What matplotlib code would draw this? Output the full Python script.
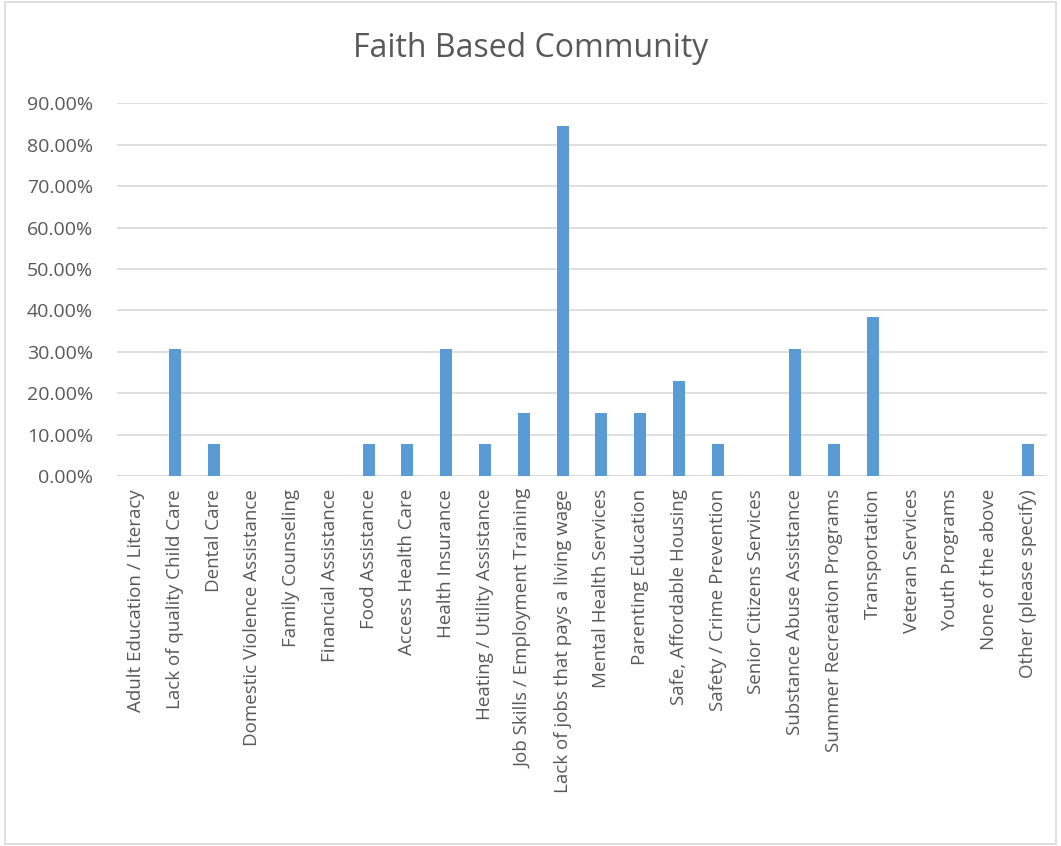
import matplotlib
matplotlib.use("Agg")
import matplotlib.pyplot as plt
from matplotlib.ticker import PercentFormatter
from matplotlib.patches import Rectangle

categories = [
    "Adult Education / Literacy", "Lack of quality Child Care", "Dental Care",
    "Domestic Violence Assistance", "Family Counseling", "Financial Assistance",
    "Food Assistance", "Access Health Care", "Health Insurance",
    "Heating / Utility Assistance", "Job Skills / Employment Training",
    "Lack of jobs that pays a living wage", "Mental Health Services",
    "Parenting Education", "Safe, Affordable Housing", "Safety / Crime Prevention",
    "Senior Citizens Services", "Substance Abuse Assistance",
    "Summer Recreation Programs", "Transportation", "Veteran Services",
    "Youth Programs", "None of the above", "Other (please specify)",
]
values = [0.0, 0.3077, 0.0769, 0.0, 0.0, 0.0, 0.0769, 0.0769, 0.3077, 0.0769,
          0.1538, 0.8462, 0.1538, 0.1538, 0.2308, 0.0769, 0.0, 0.3077, 0.0769,
          0.3846, 0.0, 0.0, 0.0, 0.0769]
yticks = [0.0, 0.1, 0.2, 0.3, 0.4, 0.5, 0.6, 0.7, 0.8, 0.9]

plt.rcParams['font.family'] = ['Open Sans', 'DejaVu Sans']
fig = plt.figure(figsize=(10.61, 8.46), dpi=100)
ax = fig.add_axes([0.110, 0.437, 0.877, 0.441])

x = range(len(categories))
ax.bar(x, values, width=0.31, color='#5B9BD5', zorder=3)
ax.set_xlim(-0.5, len(categories) - 0.5)
ax.set_ylim(0, 0.9)
ax.set_yticks(yticks)
ax.yaxis.set_major_formatter(PercentFormatter(1.0, decimals=2))
ax.set_xticks(list(x))
ax.set_xticklabels(categories, rotation=90, fontsize=13.5, color='#595959')
ax.tick_params(axis='y', labelsize=14, labelcolor='#595959', length=0, pad=17)
ax.tick_params(axis='x', length=0, pad=9)
ax.grid(axis='y', color='#D9D9D9', linewidth=1.2, zorder=0)
for s in ax.spines.values():
    s.set_visible(False)
ax.axhline(0, color='#D9D9D9', linewidth=1.2, zorder=1)

fig.text(0.5, 0.943, "Faith Based Community", ha='center', va='center',
         fontsize=23, color='#595959')
fig.patches.append(Rectangle((0.005, 0.002), 0.99, 0.996, transform=fig.transFigure,
                             fill=False, edgecolor='#D9D9D9', linewidth=1.2))
fig.savefig("out.png", dpi=100)
